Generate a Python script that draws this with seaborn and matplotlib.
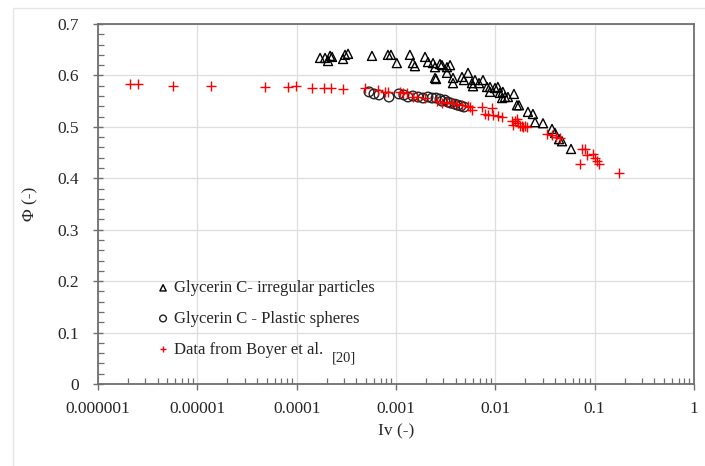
import matplotlib
matplotlib.use('Agg')
import matplotlib.pyplot as plt
import seaborn as sns
import numpy as np
import pandas as pd
from matplotlib.ticker import FixedLocator, FixedFormatter, LogLocator, MultipleLocator, NullFormatter
from matplotlib.patches import Rectangle

# Glycerin C - irregular particles (triangles)
tri_iv = [1.72e-4, 1.93e-4, 2.17e-4, 2.27e-4, 2.07e-4, 3.07e-4, 3.29e-4, 2.93e-4, 5.73e-4,
          8.3e-4, 8.9e-4, 1.02e-3, 1.38e-3, 1.48e-3, 1.55e-3, 1.96e-3, 2.10e-3, 2.36e-3,
          2.47e-3, 2.77e-3, 2.90e-3, 3.26e-3, 3.50e-3, 2.47e-3, 2.53e-3, 3.26e-3, 3.75e-3,
          3.75e-3, 4.62e-3, 4.84e-3, 5.31e-3, 5.82e-3, 5.96e-3, 6.24e-3, 6.85e-3, 7.51e-3,
          8.25e-3, 8.84e-3, 8.84e-3, 9.93e-3, 1.06e-2, 1.11e-2, 1.17e-2, 1.19e-2, 1.25e-2,
          1.34e-2, 1.54e-2, 1.65e-2, 1.73e-2, 2.13e-2, 2.39e-2, 2.51e-2, 3.02e-2, 3.72e-2,
          3.99e-2, 4.38e-2, 4.69e-2, 5.78e-2]
tri_phi = [0.634, 0.634, 0.638, 0.636, 0.628, 0.640, 0.642, 0.632, 0.638,
           0.640, 0.640, 0.624, 0.640, 0.624, 0.618, 0.636, 0.626, 0.624,
           0.616, 0.622, 0.620, 0.616, 0.620, 0.595, 0.593, 0.605, 0.595,
           0.585, 0.597, 0.591, 0.605, 0.585, 0.579, 0.591, 0.585, 0.591,
           0.5775, 0.5775, 0.568, 0.5755, 0.5775, 0.566, 0.556, 0.568, 0.558,
           0.558, 0.564, 0.542, 0.542, 0.529, 0.525, 0.509, 0.507, 0.496,
           0.488, 0.476, 0.472, 0.457]

# Glycerin C - plastic spheres (circles)
circ_iv = [5.35e-4, 6.0e-4, 6.75e-4, 8.5e-4, 1.07e-3, 1.20e-3, 1.32e-3, 1.48e-3, 1.67e-3,
           1.87e-3, 2.10e-3, 2.31e-3, 2.53e-3, 2.77e-3, 2.90e-3, 3.11e-3, 3.34e-3, 3.58e-3,
           3.93e-3, 4.21e-3, 4.51e-3, 4.84e-3]
circ_phi = [0.568, 0.564, 0.562, 0.558, 0.564, 0.562, 0.558, 0.560, 0.558,
            0.556, 0.558, 0.556, 0.556, 0.554, 0.550, 0.552, 0.548, 0.546,
            0.544, 0.542, 0.5405, 0.5386]

# Boyer et al. data (red crosses)
boyer_iv = [2.1e-6, 2.5e-6, 5.7e-6, 1.37e-5, 4.8e-5, 8.2e-5, 9.8e-5, 1.43e-4, 1.88e-4, 2.22e-4,
            2.93e-4, 4.88e-4, 6.6e-4, 7.75e-4, 8.3e-4, 1.10e-3, 1.18e-3, 1.29e-3, 1.48e-3,
            1.63e-3, 1.96e-3, 2.59e-3, 2.9e-3, 3.26e-3, 3.66e-3, 4.11e-3, 4.62e-3, 5.31e-3,
            5.56e-3, 5.82e-3, 7.34e-3, 7.87e-3, 8.44e-3, 9.26e-3, 9.48e-3, 1.06e-2, 1.17e-2,
            1.47e-2, 1.51e-2, 1.58e-2, 1.65e-2, 1.69e-2, 1.77e-2, 1.86e-2, 1.90e-2, 1.99e-2,
            2.08e-2, 3.31e-2, 3.72e-2, 4.08e-2, 4.48e-2, 7.12e-2, 7.5e-2, 8.0e-2, 8.37e-2,
            9.6e-2, 0.101, 0.106, 0.111, 0.176]
boyer_phi = [0.583, 0.583, 0.579, 0.579, 0.578, 0.578, 0.579, 0.576, 0.576, 0.576,
             0.574, 0.576, 0.572, 0.568, 0.568, 0.568, 0.566, 0.566, 0.558,
             0.558, 0.556, 0.550, 0.546, 0.548, 0.546, 0.544, 0.542, 0.5405,
             0.539, 0.533, 0.539, 0.525, 0.523, 0.537, 0.523, 0.521, 0.519,
             0.511, 0.504, 0.511, 0.515, 0.5075, 0.502, 0.502, 0.500, 0.502,
             0.500, 0.486, 0.484, 0.480, 0.478, 0.428, 0.457, 0.457, 0.445,
             0.447, 0.439, 0.434, 0.428, 0.410]

x_ticks = [1e-6, 1e-5, 1e-4, 1e-3, 1e-2, 1e-1, 1]
x_tick_labels = ['0.000001', '0.00001', '0.0001', '0.001', '0.01', '0.1', '1']

tri_df = pd.DataFrame({'Iv': tri_iv, 'Phi': tri_phi})
circ_df = pd.DataFrame({'Iv': circ_iv, 'Phi': circ_phi})
boyer_df = pd.DataFrame({'Iv': boyer_iv, 'Phi': boyer_phi})

sns.set_style('white')
plt.rcParams['font.family'] = ['Liberation Serif', 'DejaVu Serif']

fig = plt.figure(figsize=(7.05, 4.66), dpi=100)
ax = fig.add_axes([0.139, 0.176, 0.8454, 0.7725])

# light frame around the figure
fig.patches.append(Rectangle((13 / 705, -0.05), 1.1, 1 - 8 / 466 + 0.05, transform=fig.transFigure,
                             fill=False, edgecolor='#e6e6e6', linewidth=1.0, zorder=0))

sns.scatterplot(data=tri_df, x='Iv', y='Phi', marker='^', s=42, facecolor='none',
                edgecolor='black', linewidth=1.0, label='Glycerin C- irregular particles', ax=ax, zorder=3)
sns.scatterplot(data=circ_df, x='Iv', y='Phi', marker='o', s=48, facecolor='none',
                edgecolor='#222222', linewidth=1.0, label='Glycerin C - Plastic spheres', ax=ax, zorder=3)
sns.scatterplot(data=boyer_df, x='Iv', y='Phi', marker='+', s=50, color='red',
                linewidth=1.0, label='Data from Boyer et al.', ax=ax, zorder=4)

ax.set_xscale('log')
ax.set_xlim(1e-6, 1)
ax.set_ylim(0, 0.7)
ax.xaxis.set_major_locator(FixedLocator(x_ticks))
ax.xaxis.set_major_formatter(FixedFormatter(x_tick_labels))
ax.xaxis.set_minor_locator(LogLocator(base=10, subs=np.arange(2, 10)))
ax.xaxis.set_minor_formatter(NullFormatter())
ax.yaxis.set_major_locator(MultipleLocator(0.1))
ax.yaxis.set_minor_locator(MultipleLocator(0.02))
ax.yaxis.set_major_formatter(plt.FuncFormatter(lambda v, p: '0' if v == 0 else f'{v:.1f}'))

ax.grid(True, which='major', color='#dedede', linewidth=0.9)
ax.set_axisbelow(True)
for sp in ax.spines.values():
    sp.set_color('#6f6f6f')
    sp.set_linewidth(1.3)

ax.tick_params(which='major', direction='inout', length=7, width=1, color='#6f6f6f',
               labelsize=12.5, pad=10)
ax.tick_params(which='minor', direction='in', length=4, width=0.9, color='#6f6f6f')
ax.tick_params(axis='x', which='major', direction='out', length=4, pad=8)
ax.tick_params(axis='both', which='both', bottom=True, left=True, top=False, right=False)

ax.set_xlabel('Iv (-)', fontsize=12.5, labelpad=5)
ax.set_ylabel('\u03a6 (-)', fontsize=12.5, labelpad=14)

leg = ax.legend(loc='upper left', bbox_to_anchor=(0.07, 0.33), frameon=False, fontsize=12,
                handletextpad=0.15, labelspacing=0.88, markerscale=0.7, handlelength=1.0)
ax.text(0.392, 0.072, '[20]', transform=ax.transAxes, fontsize=10.5, va='center', ha='left')

fig.savefig('out.png', dpi=100)
